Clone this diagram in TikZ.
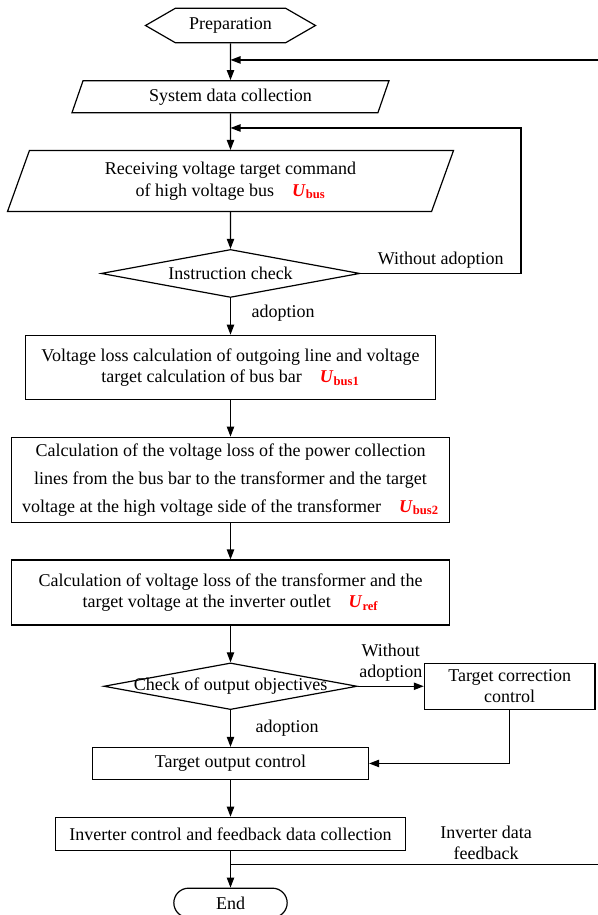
\documentclass[tikz,border=0pt]{standalone}
\usepackage{fontspec}
\setmainfont{Liberation Serif}
\usetikzlibrary{shapes.geometric, shapes.symbols, positioning, arrows.meta, calc}

\newcommand{\Uv}[1]{\textcolor{red}{\textbf{\textit{U}\textsubscript{#1}}}}

\tikzset{
    base/.style={draw, line width=0.9pt, inner sep=2pt, align=center},
    hexa/.style={base, signal, signal to=west and east, signal pointer angle=60,
        minimum width=127.5pt, minimum height=26pt},
    para/.style={base, trapezium, trapezium left angle=63, trapezium right angle=117,
        trapezium stretches body},
    proc/.style={base, rectangle},
    check/.style={base, diamond, inner sep=0pt},
    term/.style={base, rounded corners=11pt, minimum width=85pt, minimum height=22pt},
    arr/.style={line width=0.9pt, -{Triangle[length=7.5pt,width=5.5pt]}},
}

\begin{document}
\begin{tikzpicture}[node distance=27.5pt, x=0.75pt, y=-0.75pt,
    font=\fontsize{13.5}{16}\selectfont]
    \useasboundingbox (0,0) rectangle (598,915);

    \node[hexa] (prep) at (230.5,25.5) {Preparation};
    \node[para, below=of prep, minimum width=237.75pt, minimum height=24pt] (sys)
        {System data collection};
    \node[para, below=of sys, minimum width=334.5pt, minimum height=45.75pt] (recv)
        {Receiving voltage target command\\ of high voltage bus\quad\Uv{bus}};
    \node[check, below=of recv, minimum width=194pt, minimum height=36pt,
        label=center:Instruction check] (chk1) {};
    \node[proc, below=of chk1, minimum width=307.5pt, minimum height=48pt] (bus1)
        {Voltage loss calculation of outgoing line and voltage\\
         target calculation of bus bar\quad\Uv{bus1}};
    \node[proc, below=of bus1, minimum width=328.5pt, minimum height=63.75pt] (bus2)
        {Calculation of the voltage loss of the power collection\\[5pt]
         lines from the bus bar to the transformer and the target\\[5pt]
         voltage at the high voltage side of the transformer\quad\Uv{bus2}};
    \node[proc, below=of bus2, minimum width=328pt, minimum height=48.75pt] (uref)
        {Calculation of voltage loss of the transformer and the\\
         target voltage at the inverter outlet\quad\Uv{ref}};
    \node[check, below=of uref, minimum width=190pt, minimum height=35pt,
        label=center:Check of output objectives] (chk2) {};
    \node[proc, right=49.5pt of chk2, minimum width=128pt, minimum height=34.5pt] (corr)
        {Target correction\\ control};
    \node[proc, below=of chk2, minimum width=207pt, minimum height=24pt] (out)
        {Target output control};
    \node[proc, below=of out, minimum width=262pt, minimum height=24.75pt] (inv)
        {Inverter control and feedback data collection};
    \node[term, below=of inv] (end) {End};

    \coordinate (fbin) at ($(prep.south)!0.45!(sys.north)$);
    \coordinate (fbout) at ($(inv.south)!0.38!(end.north)$);
    \coordinate (loopin) at ($(sys.south)!0.4!(recv.north)$);
    \coordinate (rloop) at (521,0);
    \coordinate (redge) at (601,0);

    \draw[arr]
        (prep) edge (sys)
        (sys) edge (recv)
        (recv) edge (chk1)
        (chk1) edge node[right=12pt, pos=0.4]{adoption} (bus1)
        (bus1) edge (bus2)
        (bus2) edge (uref)
        (uref) edge (chk2)
        (chk2) edge node[right=15pt]{adoption} (out)
        (chk2) edge node[above, align=center]{Without\\ adoption} (corr)
        (out) edge (inv)
        (inv) edge (end)
        ;
    \draw[arr] (chk1.east) -- node[above]{Without adoption} (chk1.east -| rloop) |- (loopin);
    \draw[arr] (corr.south) |- (out.east);
    \draw[arr] (fbout) -- node[pos=0.69, above, align=center]{Inverter data\\ feedback}
        (fbout -| redge) |- (fbin);
\end{tikzpicture}
\end{document}
